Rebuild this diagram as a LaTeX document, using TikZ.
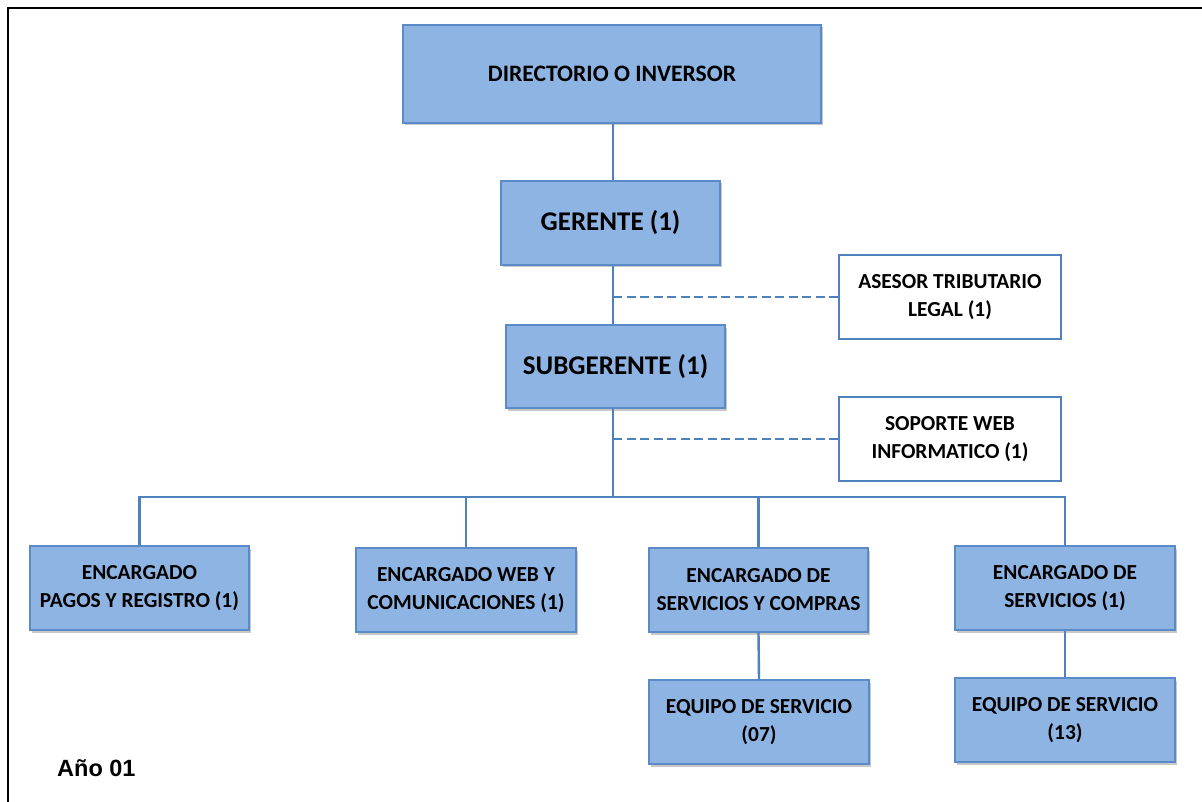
\documentclass[tikz,border=0pt]{standalone}
\usepackage{fontspec}
\setmainfont{Carlito}
\newfontfamily\arialfont{Liberation Sans}
\usetikzlibrary{shadows}
\definecolor{boxfill}{HTML}{8EB4E3}
\definecolor{boxline}{HTML}{5B8AC8}
\definecolor{linkline}{HTML}{4F81BD}
\tikzset{
  unitbox/.style={draw=boxline, line width=1.3pt, inner sep=0pt, align=center,
    font=\bfseries\fontsize{21.4}{28}\selectfont,
    drop shadow={shadow xshift=1.5pt, shadow yshift=-2.5pt, opacity=0.3, fill=black!70}},
  bluebox/.style={unitbox, fill=boxfill},
  whitebox/.style={draw=linkline, line width=2pt, fill=white, inner sep=0pt, align=center,
    font=\bfseries\fontsize{21.4}{28}\selectfont},
  link/.style={draw=linkline, line width=2.4pt},
  dashlink/.style={draw=linkline, line width=2pt, dash pattern=on 9pt off 4.5pt}
}
\begin{document}
\begin{tikzpicture}[x=1pt, y=-1pt]
  \useasboundingbox[fill=white] (0,0) rectangle (1202,802);
  % page frame
  \draw[line width=2pt, black] (8,802) -- (8,8) -- (1202,8);

  % boxes
  \node[bluebox, minimum width=418pt, minimum height=98pt,
        font=\bfseries\fontsize{23.6}{28}\selectfont] (dir) at (612,74) {DIRECTORIO O INVERSOR};
  \node[bluebox, minimum width=219pt, minimum height=84pt,
        font=\bfseries\fontsize{27}{32}\selectfont] (ger) at (610.5,223) {GERENTE (1)};
  \node[bluebox, minimum width=219pt, minimum height=83pt,
        font=\bfseries\fontsize{27}{32}\selectfont] (sub) at (615.5,366.5) {SUBGERENTE (1)};
  \node[whitebox, minimum width=222pt, minimum height=84pt] (ase) at (950,297)
        {ASESOR TRIBUTARIO\\LEGAL (1)};
  \node[whitebox, minimum width=222pt, minimum height=84pt] (sop) at (950,439)
        {SOPORTE WEB\\INFORMATICO (1)};

  \node[bluebox, minimum width=219pt, minimum height=84pt] (e1) at (139.5,588)
        {ENCARGADO\\PAGOS Y REGISTRO (1)};
  \node[bluebox, minimum width=220pt, minimum height=84pt] (e2) at (466,590)
        {ENCARGADO WEB Y\\COMUNICACIONES (1)};
  \node[bluebox, minimum width=219pt, minimum height=84pt] (e3) at (758.5,590)
        {ENCARGADO DE\\SERVICIOS Y COMPRAS};
  \node[bluebox, minimum width=220pt, minimum height=84pt] (e4) at (1065,588)
        {ENCARGADO DE\\SERVICIOS (1)};
  \node[bluebox, minimum width=220pt, minimum height=84pt] (q1) at (759,722)
        {EQUIPO DE SERVICIO\\(07)};
  \node[bluebox, minimum width=220pt, minimum height=84pt] (q2) at (1065,720)
        {EQUIPO DE SERVICIO\\(13)};

  \node[font=\arialfont\bfseries\fontsize{23.5}{26}\selectfont, anchor=west, inner sep=0pt]
        (year) at (57,768) {Año 01};

  % trunk and branches
  \coordinate (t) at (613,0);
  \coordinate (bus) at (613,497);
  \draw[link] (dir.south -| t) -- (ger.north -| t);
  \draw[link] (ger.south -| t) -- (sub.north -| t);
  \draw[link] (sub.south -| t) -- (bus);
  \draw[link] (e1.north) |- (bus) -| (e4.north);
  \draw[link] (e2.north) -- (e2.north |- bus);
  \draw[link] (e3.north) -- (e3.north |- bus);
  \draw[link] (e3.south) -- (q1.north);
  \draw[link] (e4.south) -- (q2.north);

  % advisory links
  \draw[dashlink] (ase.west) -- (ase.west -| t);
  \draw[dashlink] (sop.west) -- (sop.west -| t);
\end{tikzpicture}
\end{document}
